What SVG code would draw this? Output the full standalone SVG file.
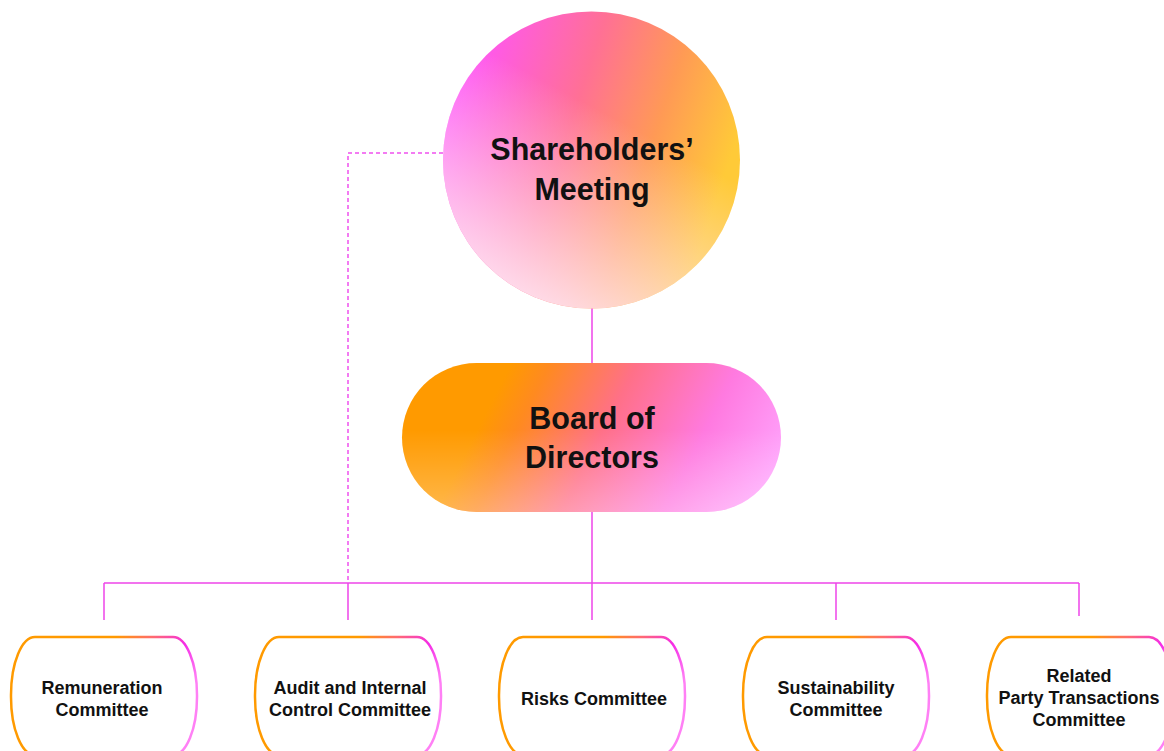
<svg xmlns="http://www.w3.org/2000/svg" width="1164" height="751" viewBox="0 0 1164 751">
<defs>
<linearGradient id="gCircle" x1="0.05" y1="0.25" x2="0.95" y2="0.55">
<stop offset="0" stop-color="#FF55F8"/>
<stop offset="0.42" stop-color="#FF7095"/>
<stop offset="0.72" stop-color="#FF9A55"/>
<stop offset="1" stop-color="#FFCA38"/>
</linearGradient>
<linearGradient id="gFadeC" x1="0.8" y1="0.15" x2="0.35" y2="1">
<stop offset="0.3" stop-color="#FFE6F4" stop-opacity="0"/>
<stop offset="1" stop-color="#FFE6F4" stop-opacity="0.9"/>
</linearGradient>
<linearGradient id="gPill" x1="0" y1="0.4" x2="1" y2="0.6">
<stop offset="0" stop-color="#FF9A00"/>
<stop offset="0.2" stop-color="#FF9A00"/>
<stop offset="0.3" stop-color="#FF8A20"/>
<stop offset="0.52" stop-color="#FF7088"/>
<stop offset="0.78" stop-color="#FF7AE0"/>
<stop offset="1" stop-color="#FFA0FA"/>
</linearGradient>
<linearGradient id="gFadeP" x1="0" y1="0" x2="0" y2="1">
<stop offset="0.45" stop-color="#FFFFFF" stop-opacity="0"/>
<stop offset="1" stop-color="#FFFFFF" stop-opacity="0.3"/>
</linearGradient>
<linearGradient id="gBox" x1="0" y1="0" x2="1" y2="0.35">
<stop offset="0" stop-color="#FF9A00"/>
<stop offset="0.5" stop-color="#FF9A00"/>
<stop offset="0.68" stop-color="#FF6A70"/>
<stop offset="0.85" stop-color="#F52CE6"/>
<stop offset="1" stop-color="#FF80F5"/>
</linearGradient>
<style>
.conn { fill: none; stroke: #EE44E8; stroke-width: 1.5; }
.dash { fill: none; stroke: #F050EE; stroke-width: 1.5; stroke-dasharray: 4 3; }
.box { fill: #FFFFFF; stroke: url(#gBox); stroke-width: 2.5; }
.big { font-family: "Liberation Sans", Arial, sans-serif; font-weight: bold; font-size: 30.5px; fill: #111111; text-anchor: middle; }
.lbl { font-family: "Liberation Sans", Arial, sans-serif; font-weight: bold; font-size: 18px; fill: #111111; text-anchor: middle; }
</style>
</defs>
<rect width="1164" height="751" fill="#FFFFFF"/>
<g id="connectors">
<line class="conn" x1="592" y1="308" x2="592" y2="363"/>
<line class="conn" x1="592" y1="512" x2="592" y2="620"/>
<line class="conn" x1="104" y1="583" x2="1079" y2="583"/>
<line class="conn" x1="104" y1="583" x2="104" y2="620"/>
<line class="conn" x1="348" y1="583" x2="348" y2="620"/>
<line class="conn" x1="836" y1="583" x2="836" y2="620"/>
<line class="conn" x1="1079" y1="583" x2="1079" y2="616"/>
<polyline class="dash" points="443,153 348,153 348,583"/>
</g>
<g id="shareholders-meeting">
<circle cx="591.5" cy="160" r="148.5" fill="url(#gCircle)"/>
<circle cx="591.5" cy="160" r="148.5" fill="url(#gFadeC)"/>
<text class="big" x="592" y="160">Shareholders’</text>
<text class="big" x="592" y="200">Meeting</text>
</g>
<g id="board-of-directors">
<rect x="402" y="363" width="379" height="149" rx="74.5" fill="url(#gPill)"/>
<rect x="402" y="363" width="379" height="149" rx="74.5" fill="url(#gFadeP)"/>
<text class="big" x="592" y="429">Board of</text>
<text class="big" x="592" y="468">Directors</text>
</g>
<g id="remuneration-committee">
<rect class="box" x="11" y="637" width="186" height="118" rx="24" ry="58"/>
<text class="lbl" x="102" y="694">Remuneration</text>
<text class="lbl" x="102" y="716">Committee</text>
</g>
<g id="audit-committee">
<rect class="box" x="255" y="637" width="186" height="118" rx="24" ry="58"/>
<text class="lbl" x="350" y="694">Audit and Internal</text>
<text class="lbl" x="350" y="716">Control Committee</text>
</g>
<g id="risks-committee">
<rect class="box" x="499" y="637" width="186" height="118" rx="24" ry="58"/>
<text class="lbl" x="594" y="705">Risks Committee</text>
</g>
<g id="sustainability-committee">
<rect class="box" x="743" y="637" width="186" height="118" rx="24" ry="58"/>
<text class="lbl" x="836" y="694">Sustainability</text>
<text class="lbl" x="836" y="716">Committee</text>
</g>
<g id="related-party-committee">
<rect class="box" x="987" y="637" width="186" height="118" rx="24" ry="58"/>
<text class="lbl" x="1079" y="682">Related</text>
<text class="lbl" x="1079" y="704">Party Transactions</text>
<text class="lbl" x="1079" y="726">Committee</text>
</g>
</svg>
